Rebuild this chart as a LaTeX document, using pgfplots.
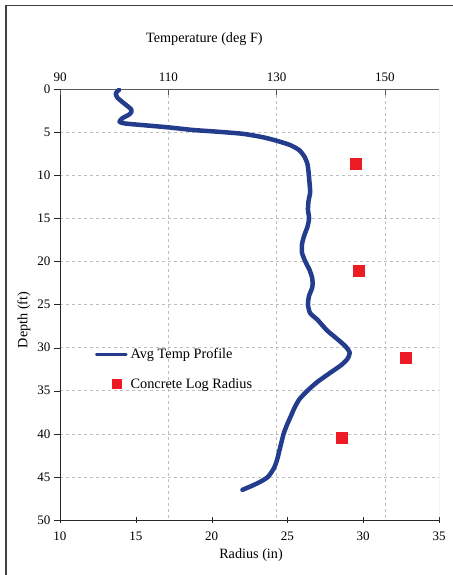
\documentclass[border=0pt]{standalone}
\usepackage{pgfplots}
\pgfplotsset{compat=1.18}
\usepackage{fontspec}
\setmainfont{Liberation Serif}

\definecolor{tempblue}{RGB}{35,60,140}
\definecolor{logred}{RGB}{237,28,36}
\definecolor{gridgray}{RGB}{190,190,190}

\pgfplotsset{
  depthaxis/.style={
    scale only axis, width=379pt, height=431pt,
    ymin=0, ymax=50, y dir=reverse,
    /pgf/number format/assume math mode=true,
    tick label style={font=\fontsize{13}{15}\selectfont},
    label style={font=\fontsize{14.2}{17}\selectfont},
    major tick length=6pt,
    grid style={gridgray, dash pattern=on 3pt off 3pt, line width=0.6pt},
  },
}

\begin{document}
\begin{tikzpicture}
\path[use as bounding box] (-60pt,-55pt) rectangle (392pt,520pt);
\draw[black!75, line width=1.3pt] (-54pt,-56pt) -- (-54pt,514.5pt) -- (393pt,514.5pt);

% radius on the bottom axis, with the depth grid (drawn first, underneath)
\begin{axis}[depthaxis,
  xmin=10, xmax=35,
  axis x line*=bottom, axis y line*=left,
  axis line style={black!85, line width=0.8pt, -},
  xtick={10,15,...,35}, ytick={5,10,...,45},
  extra y ticks={0,50}, extra y tick style={grid=none},
  x tick style={black!85}, y tick style={black!85},
  xtick align=center, ytick align=outside,
  ymajorgrids,
  xticklabel style={yshift=-5pt},
  xlabel={Radius (in)}, ylabel={Depth (ft)},
  xlabel style={at={(axis description cs:0.504,0)}, anchor=center, yshift=-35pt},
  ylabel style={at={(axis description cs:-0.095,0.464)}, anchor=center},
]
\addplot[only marks, mark=square*, mark size=5.5pt, color=logred] coordinates {
(29.5,8.7) (29.7,21.1) (32.8,31.2) (28.6,40.4)
};
\end{axis}

% temperature on the top axis
\begin{axis}[depthaxis,
  xmin=90, xmax=160,
  axis x line*=top, axis y line=none,
  axis line style={black!65, line width=0.8pt, -},
  xtick={110,130,150}, ytick=\empty,
  extra x ticks={90}, extra x tick style={grid=none},
  x tick style={black!65}, xtick align=inside,
  xmajorgrids,
  xticklabel style={yshift=4pt},
  xlabel={Temperature (deg F)},
  xlabel style={at={(axis description cs:0.381,1)}, anchor=center, yshift=50pt},
  legend style={at={(0.092,0.40)}, anchor=north west, draw=none, fill=none,
    inner sep=0pt, row sep=16pt, column sep=2pt,
    font=\fontsize{14.3}{17}\selectfont, nodes={inner sep=1pt}},
  legend cell align=left,
]
\draw[black!40, line width=0.8pt] (rel axis cs:1,0) -- (rel axis cs:1,1);
\addplot[tempblue, line width=4.5pt, line join=round, line cap=round, smooth, tension=0.4,
  legend image code/.code={\draw[tempblue, line width=2.5pt] (0pt,0pt) -- (30pt,0pt);}]
  coordinates {
(100.9,0.1) (100.3,0.5) (100.6,1.0) (101.7,1.6) (103.2,2.4) (102.9,2.9)
(101.5,3.4) (101.0,3.8) (102.0,4.0) (105.5,4.2) (110.0,4.45) (114.5,4.75)
(119.0,4.95) (123.8,5.2) (127.5,5.6) (130.0,6.0) (132.5,6.5) (134.2,7.1)
(135.2,7.9) (135.7,8.7) (135.9,9.6) (136.1,11.0) (136.2,12.0) (135.9,13.0)
(135.8,14.0) (136.0,15.0) (135.7,16.0) (135.1,17.0) (134.7,18.0) (134.7,19.0)
(135.3,20.0) (136.1,21.0) (136.6,22.0) (136.6,23.0) (136.0,24.0) (135.8,25.0)
(136.2,26.0) (137.6,26.8) (139.3,28.0) (141.2,29.0) (142.8,29.9) (143.5,30.6)
(143.1,31.3) (142.0,32.0) (139.5,33.1) (137.5,34.0) (135.7,35.0) (134.2,36.0)
(133.3,37.0) (132.6,38.0) (131.9,39.0) (131.3,40.0) (130.9,41.0) (130.5,42.0)
(130.1,43.0) (129.5,44.0) (128.4,45.0) (126.9,45.6) (125.2,46.1) (123.7,46.5)
};
\addlegendentry{Avg Temp Profile}
\addlegendimage{legend image code/.code={\node[fill=logred, minimum size=10pt, inner sep=0pt] at (15pt,0pt) {};}}
\addlegendentry{Concrete Log Radius}
\end{axis}
\end{tikzpicture}
\end{document}
